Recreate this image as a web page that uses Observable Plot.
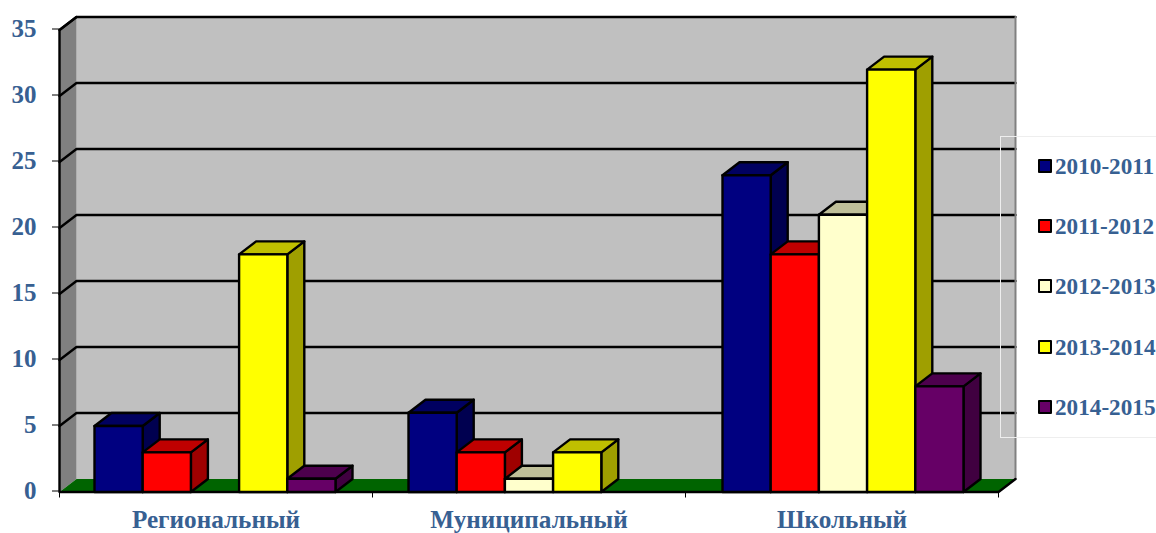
<!DOCTYPE html>
<html>
<head>
<meta charset="utf-8">
<script src="https://cdn.jsdelivr.net/npm/d3@7"></script>
<script src="https://cdn.jsdelivr.net/npm/@observablehq/plot@0.6"></script>
<style>
  html, body { margin: 0; padding: 0; background: #fff; overflow: hidden; }
  #wrap { position: relative; width: 1156px; height: 533px; }
  #wrap svg { display: block; }
  #legendBox { position: absolute; left: 1000px; top: 136px; width: 156px; height: 300px; border: 1px solid #eeeeee; border-right: none; box-sizing: content-box; font: bold 23.2px "Liberation Serif", serif; color: #376092; }
  .row { position: absolute; left: 37px; white-space: nowrap; line-height: 26px; height: 26px; display: flex; align-items: center; }
  .sw { display: inline-block; width: 10px; height: 10px; border: 2px solid #000; border-radius: 1px; margin-right: 3px; }
</style>
</head>
<body>
<div id="wrap"></div>
<script>
const categories = ["Региональный", "Муниципальный", "Школьный"];
const seasons = ["2010-2011", "2011-2012", "2012-2013", "2013-2014", "2014-2015"];
const seasonColors = ["#000080", "#ff0000", "#ffffcc", "#ffff00", "#660066"];
const v2010 = [5, 6, 24];
const v2011 = [3, 3, 18];
const v2012 = [0, 1, 21];
const v2013 = [18, 3, 32];
const v2014 = [1, 0, 8];
const yTicks = [0, 5, 10, 15, 20, 25, 30, 35];
const xTicks = [0, 1, 2, 3];

const series = [v2010, v2011, v2012, v2013, v2014];
const depthX = 17 / 313, depthY = 13 / 13.2;   // depth of the 3D box, in data units
const gap = 35 / 313, barW = 48.2 / 313, pitch = 314 / 313;
const yMax = 35, xMax = categories.length;

const shade = (c, k) => { const r = d3.rgb(c); return d3.rgb(r.r * k, r.g * k, r.b * k).formatHex(); };

const faces = [];
let fid = 0;
const addFace = (pts, color) => {
  const id = fid++;
  [...pts, pts[0]].forEach(([x, y]) => faces.push({ id, x, y, color }));
};
categories.forEach((cat, i) => {
  series.forEach((vals, s) => {
    const v = vals[i];
    if (!v) return;
    const x1 = i * pitch + gap + s * barW, x2 = x1 + barW, c = seasonColors[s];
    addFace([[x2, 0], [x2 + depthX, depthY], [x2 + depthX, v + depthY], [x2, v]], shade(c, 0.625));
    addFace([[x1, v], [x1 + depthX, v + depthY], [x2 + depthX, v + depthY], [x2, v]], shade(c, 0.75));
    addFace([[x1, 0], [x1, v], [x2, v], [x2, 0]], c);
  });
});

const poly = pts => [...pts, pts[0]].map(([x, y]) => ({ x, y }));
const leftWall = poly([[0, 0], [depthX, depthY], [depthX, yMax + depthY], [0, yMax]]);
const backWall = poly([[depthX, depthY], [xMax + depthX, depthY], [xMax + depthX, yMax + depthY], [depthX, yMax + depthY]]);
const floor = poly([[0, 0], [depthX, depthY], [xMax + depthX, depthY], [xMax, 0]]);
const grid = yTicks.filter(t => t > 0).flatMap(t => [[0, t], [depthX, t + depthY], [xMax + depthX, t + depthY]].map(([x, y]) => ({ x, y, t })));
const xy = { x: "x", y: "y" };
const textColor = "#376092";

const chart = Plot.plot({
  width: 1156, height: 533,
  marginLeft: 59, marginRight: 158, marginTop: 29.5, marginBottom: 41.5,
  style: { background: "transparent", overflow: "visible" },
  x: { type: "linear", domain: [0, xMax], axis: null },
  y: { type: "linear", domain: [0, yMax], axis: null },
  color: { type: "identity" },
  marks: [
    Plot.line(backWall, { ...xy, fill: "#c0c0c0", stroke: "none" }),
    Plot.line(leftWall, { ...xy, fill: "#808080", stroke: "none" }),
    Plot.line(floor, { ...xy, fill: "#006400", stroke: "none" }),
    Plot.line(grid, { ...xy, z: "t", stroke: "#000", strokeWidth: 2.4 }),
    Plot.line([[xMax + depthX, depthY], [xMax + depthX, yMax + depthY]].map(([x, y]) => ({ x, y })), { ...xy, stroke: "#808080", strokeWidth: 2 }),
    Plot.line([[depthX, yMax + depthY], [0, yMax], [0, 0], [xMax, 0], [xMax + depthX, depthY]].map(([x, y]) => ({ x, y })), { ...xy, stroke: "#000", strokeWidth: 2.4 }),
    Plot.line(faces, { ...xy, z: "id", fill: "color", stroke: "#000", strokeWidth: 2.4 }),
    Plot.axisY(yTicks, { anchor: "left", tickSize: 7, tickPadding: 16, stroke: "#000", fontSize: 25, fontWeight: "bold", fontFamily: "Liberation Serif", fill: textColor, tickFormat: d => String(d), label: null, textStroke: "none", dy: -1 }),
    Plot.axisX(xTicks, { anchor: "bottom", tickSize: 6, stroke: "#000", tickFormat: () => "", label: null }),
    Plot.text(categories, { x: (d, i) => i + 0.5, y: 0, text: d => d, dy: 28, fontSize: 25.2, fontWeight: "bold", fontFamily: "Liberation Serif", fill: textColor })
  ]
});

const wrap = document.getElementById("wrap");
wrap.appendChild(chart);
const box = document.createElement("div");
box.id = "legendBox";
seasons.forEach((s, i) => {
  const row = document.createElement("div");
  row.className = "row";
  row.style.top = (16 + i * 60.2) + "px";
  const sw = document.createElement("span");
  sw.className = "sw";
  sw.style.background = seasonColors[i];
  row.appendChild(sw);
  row.appendChild(document.createTextNode(s));
  box.appendChild(row);
});
wrap.appendChild(box);
</script>
</body>
</html>
